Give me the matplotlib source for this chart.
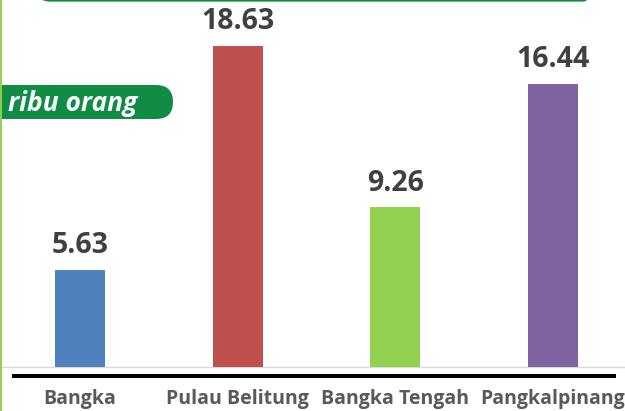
import matplotlib
matplotlib.use("Agg")
import matplotlib.pyplot as plt
from matplotlib.patches import FancyBboxPatch
from matplotlib.lines import Line2D

categories = ["Bangka", "Pulau Belitung", "Bangka Tengah", "Pangkalpinang"]
values = [5.63, 18.63, 9.26, 16.44]
colors = ["#4F81BD", "#C0504D", "#92D050", "#8064A2"]
unit_label = "ribu orang"

W, H = 625, 411
fig = plt.figure(figsize=(W / 100, H / 100), dpi=100)

# main axes: baseline at y=367 px from top
base_px = 367
ax = fig.add_axes([0, (H - base_px) / H, 1, base_px / H])
x = list(range(len(categories)))
ax.bar(x, values, width=0.317, color=colors, zorder=3)
ax.set_xlim(-0.507, 3.456)
ax.set_ylim(0, base_px / 17.23)
for xi, v in zip(x, values):
    ax.annotate(f"{v:.2f}", (xi, v), xytext=(0, 12.2), textcoords="offset points",
                ha="center", va="baseline", fontsize=20.5, fontweight="bold",
                color="#404040", family="Open Sans")
ax.set_yticks([])
ax.set_xticks([])
for s in ["top", "right", "left"]:
    ax.spines[s].set_visible(False)
ax.spines["bottom"].set_color("#D9D9D9")
ax.spines["bottom"].set_linewidth(1)
ax.patch.set_alpha(0)

# overlay in pixel coords
ov = fig.add_axes([0, 0, 1, 1], zorder=5)
ov.set_xlim(0, W)
ov.set_ylim(H, 0)
ov.axis("off")
ov.patch.set_alpha(0)

# category labels below thick line
for xi, c in zip(x, categories):
    px = 80 + 157.7 * xi
    ov.text(px, 399, c, ha="center", va="center", fontsize=14, fontweight="bold",
            color="#595959", family="Open Sans")

# thick black line
ov.add_line(Line2D([12, 616], [376, 376], color="black", lw=2.9, solid_capstyle="butt"))

# top green rounded frame edge
ov.add_patch(FancyBboxPatch((38, -60), 557, 60.5, boxstyle="round,pad=0,rounding_size=12",
                            fill=False, edgecolor="#138A3E", lw=1.6))
# left light green edge
ov.add_line(Line2D([0.8, 0.8], [0, H], color="#92D050", lw=1.4))

# unit tag
ov.add_patch(FancyBboxPatch((-30, 85), 203, 34, boxstyle="round,pad=0,rounding_size=17",
                            facecolor="#118C45", edgecolor="none"))
ov.text(8, 111, unit_label, ha="left", va="baseline", fontsize=19, fontweight="bold",
        style="italic", color="white", family="Open Sans")

fig.savefig("out.png", dpi=100)
